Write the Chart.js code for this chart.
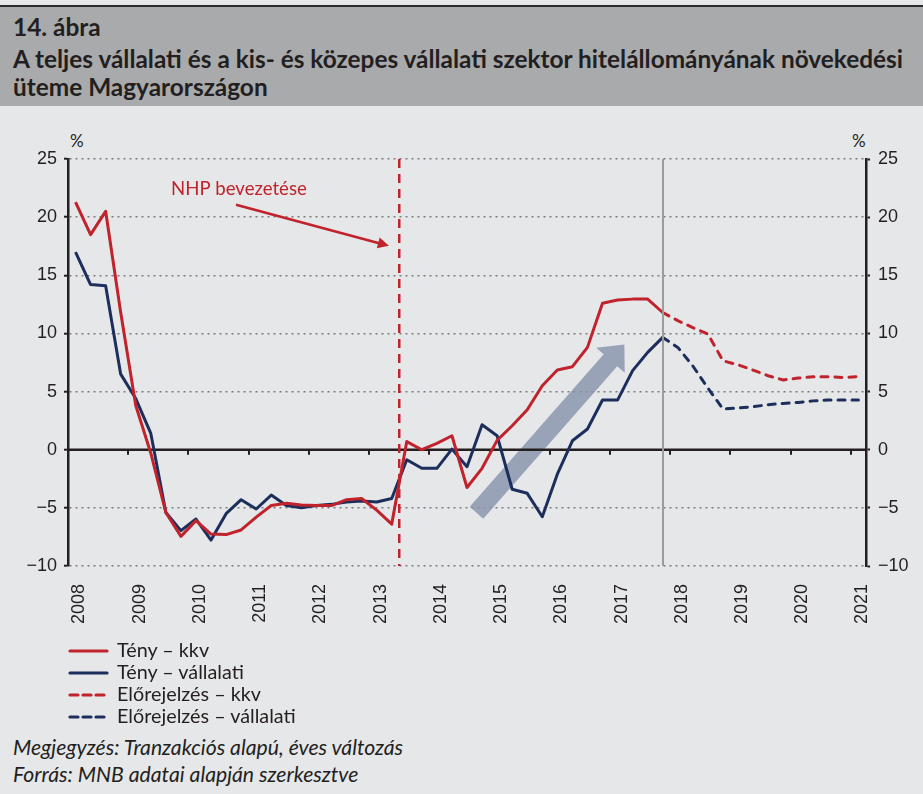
<!DOCTYPE html>
<html lang="hu">
<head>
<meta charset="utf-8">
<title>14. ábra</title>
<script src="https://cdn.jsdelivr.net/npm/chart.js@4.4.1/dist/chart.umd.min.js"></script>
<style>
  html, body { margin: 0; padding: 0; }
  body { width: 923px; height: 794px; background: #e6e7e9; position: relative; overflow: hidden;
         font-family: Lato, "Open Sans", sans-serif; color: #231f20; }
  #topline { position: absolute; left: 0; top: 5px; width: 923px; height: 2px; background: #2b2b2b; }
  #header { position: absolute; left: 0; top: 7px; width: 923px; height: 99px; background: #a9aaac; }
  #header div { position: absolute; left: 13px; font-weight: bold; font-size: 24.4px; white-space: nowrap; line-height: 28px; }
  #wrap { position: absolute; left: 0; top: 110px; width: 923px; height: 530px; }
  .pct { position: absolute; top: 130px; font-size: 17px; }
  .leg { position: absolute; left: 68px; font-size: 19.8px; line-height: 22px; height: 22px; white-space: nowrap; }
  .leg svg { vertical-align: middle; margin-right: 8px; position: relative; top: -1px; }
  .note { position: absolute; left: 13px; font-size: 21.2px; font-style: italic; white-space: nowrap; line-height: 26px; }
</style>
</head>
<body>
<div id="topline"></div>
<div id="header">
  <div style="top:6px">14. ábra</div>
  <div style="top:38px">A teljes vállalati és a kis- és közepes vállalati szektor hitelállományának növekedési</div>
  <div style="top:66px">üteme Magyarországon</div>
</div>
<div class="pct" style="left:70px">%</div>
<div class="pct" style="left:852px">%</div>
<div id="wrap"><canvas id="grafico"></canvas></div>
<div id="legenda"></div>
<div class="note" style="top:734px">Megjegyzés: Tranzakciós alapú, éves változás</div>
<div class="note" style="top:761px">Forrás: MNB adatai alapján szerkesztve</div>
<script>
// negyedéves adatok, 2008 Q1 - 2021 Q1
var evek = [2008, 2009, 2010, 2011, 2012, 2013, 2014, 2015, 2016, 2017, 2018, 2019, 2020, 2021];
var negyedevek = [];
evek.forEach(function (ev) {
    for (var q = 1; q <= 4; q++) {
        if (ev === 2021 && q > 1) break;
        negyedevek.push(ev + ' Q' + q);
    }
});

var tenyKkv = [21.3, 18.5, 20.5, 11.8, 3.8, -0.3, -5.4, -7.45, -6.1, -7.25,
    -7.3, -6.9, -5.8, -4.8, -4.6, -4.75, -4.8, -4.8, -4.3, -4.2,
    -5.2, -6.4, 0.7, 0.0, 0.55, 1.2, -3.25, -1.6, 0.8, 2.06,
    3.44, 5.5, 6.85, 7.14, 8.8, 12.6, 12.87, 12.95, 12.95, 11.8];
var tenyVallalati = [17.0, 14.2, 14.1, 6.5, 4.4, 1.4, -5.4, -6.96, -5.96, -7.77,
    -5.5, -4.3, -5.1, -3.9, -4.8, -5.0, -4.8, -4.7, -4.5, -4.4,
    -4.5, -4.2, -0.86, -1.6, -1.6, 0.05, -1.46, 2.15, 1.2, -3.4,
    -3.75, -5.76, -2.1, 0.77, 1.78, 4.27, 4.27, 6.8, 8.37, 9.66];
// előrejelzés 2017 Q4-től
var elorejelzesKkv = [11.8, 11.1, 10.5, 9.95, 7.65, 7.3, 6.85, 6.36, 6.0, 6.16, 6.28, 6.28, 6.2, 6.3];
var elorejelzesVallalati = [9.66, 8.8, 7.2, 5.3, 3.5, 3.58, 3.7, 3.87, 3.98, 4.07, 4.2, 4.27, 4.27, 4.27];

var elorejelzesKezdet = 39;   // 2017 Q4
var nhpUtan = 21;             // NHP: 2013 Q2 és Q3 között
var yTicks = [25, 20, 15, 10, 5, 0, -5, -10];

var PIROS = '#c0232c';
var KEK = '#1c2f5c';

function teljes(ertekek, kezdet) {
    var sor = [];
    for (var i = 0; i < negyedevek.length; i++) {
        var j = i - kezdet;
        sor.push(j >= 0 && j < ertekek.length ? ertekek[j] : null);
    }
    return sor;
}

// jelmagyarázat
var tetelek = [
    { cimke: 'Tény – kkv', szin: PIROS, dash: '' },
    { cimke: 'Tény – vállalati', szin: KEK, dash: '' },
    { cimke: 'Előrejelzés – kkv', szin: PIROS, dash: '8 5' },
    { cimke: 'Előrejelzés – vállalati', szin: KEK, dash: '8 5' }
];
var legenda = document.getElementById('legenda');
tetelek.forEach(function (t, i) {
    var d = document.createElement('div');
    d.className = 'leg';
    d.style.top = (638 + i * 22) + 'px';
    d.innerHTML = '<svg width="41" height="6"><line x1="2" y1="3" x2="39" y2="3" stroke="' + t.szin +
        '" stroke-width="3.2" stroke-linecap="round"' + (t.dash ? ' stroke-dasharray="' + t.dash + '"' : '') +
        '/></svg>' + t.cimke;
    legenda.appendChild(d);
});

function nyil(ctx, x1, y1, x2, y2, fej, fejSz, test) {
    var dx = x2 - x1, dy = y2 - y1, h = Math.sqrt(dx * dx + dy * dy);
    var ux = dx / h, uy = dy / h, px = -uy, py = ux;
    var bx = x2 - ux * fej, by = y2 - uy * fej;
    ctx.beginPath();
    ctx.moveTo(x1 + px * test, y1 + py * test);
    ctx.lineTo(bx + px * test, by + py * test);
    ctx.lineTo(bx + px * fejSz, by + py * fejSz);
    ctx.lineTo(x2, y2);
    ctx.lineTo(bx - px * fejSz, by - py * fejSz);
    ctx.lineTo(bx - px * test, by - py * test);
    ctx.lineTo(x1 - px * test, y1 - py * test);
    ctx.closePath();
    ctx.fill();
}

var rajzok = {
    id: 'rajzok',
    beforeDatasetsDraw: function (chart) {
        var ctx = chart.ctx, a = chart.chartArea, x = chart.scales.x, y = chart.scales.y;
        ctx.save();
        // nagy szürke nyíl
        ctx.fillStyle = 'rgba(136,148,172,0.82)';
        nyil(ctx, x.getPixelForValue(26.63), y.getPixelForValue(-5.42),
            x.getPixelForValue(36.45), y.getPixelForValue(9.05), 21, 19, 9);
        // nulla vonal
        var y0 = y.getPixelForValue(0);
        ctx.strokeStyle = '#231f20';
        ctx.lineWidth = 2.5;
        ctx.beginPath(); ctx.moveTo(a.left, y0); ctx.lineTo(a.right, y0); ctx.stroke();
        ctx.lineWidth = 2;
        for (var i = 4; i < negyedevek.length; i += 4) {
            var px = Math.round((x.getPixelForValue(i - 1) + x.getPixelForValue(i)) / 2);
            ctx.beginPath(); ctx.moveTo(px, y0); ctx.lineTo(px, y0 + 5); ctx.stroke();
        }
        ctx.restore();
    },
    afterDatasetsDraw: function (chart) {
        var ctx = chart.ctx, a = chart.chartArea, x = chart.scales.x, y = chart.scales.y;
        ctx.save();
        // előrejelzés kezdete
        var fx = Math.round(x.getPixelForValue(elorejelzesKezdet));
        ctx.strokeStyle = '#9c9c9c';
        ctx.lineWidth = 2;
        ctx.beginPath(); ctx.moveTo(fx, a.top); ctx.lineTo(fx, a.bottom); ctx.stroke();
        // NHP
        var nx = (x.getPixelForValue(nhpUtan) + x.getPixelForValue(nhpUtan + 1)) / 2;
        ctx.strokeStyle = PIROS;
        ctx.lineWidth = 2.5;
        ctx.setLineDash([9, 6]);
        ctx.beginPath(); ctx.moveTo(nx, a.top); ctx.lineTo(nx, a.bottom); ctx.stroke();
        ctx.setLineDash([]);
        ctx.fillStyle = PIROS;
        ctx.font = '18.6px Lato, "Open Sans", sans-serif';
        ctx.textBaseline = 'middle';
        ctx.fillText('NHP bevezetése', x.getPixelForValue(6.34), y.getPixelForValue(22.44));
        var ax1 = x.getPixelForValue(10.66), ay1 = y.getPixelForValue(21.07);
        var ax2 = x.getPixelForValue(20.81), ay2 = y.getPixelForValue(17.54);
        nyil(ctx, ax1, ay1, ax2, ay2, 11, 5.5, 1.3);
        ctx.restore();
    }
};

var tickFont = { family: '"Liberation Sans", Arial, sans-serif', size: 18 };
function jel(v) { return v < 0 ? '\u2212' + Math.abs(v) : String(v); }

var grafico = new Chart(document.getElementById('grafico').getContext('2d'), {
    type: 'line',
    data: {
        labels: negyedevek,
        datasets: [{
            label: 'Tény – kkv',
            data: teljes(tenyKkv, 0),
            borderColor: PIROS,
            borderWidth: 3
        }, {
            label: 'Tény – vállalati',
            data: teljes(tenyVallalati, 0),
            borderColor: KEK,
            borderWidth: 3
        }, {
            label: 'Előrejelzés – kkv',
            data: teljes(elorejelzesKkv, elorejelzesKezdet),
            borderColor: PIROS,
            borderWidth: 3,
            borderDash: [7, 7],
            borderCapStyle: 'round'
        }, {
            label: 'Előrejelzés – vállalati',
            data: teljes(elorejelzesVallalati, elorejelzesKezdet),
            borderColor: KEK,
            borderWidth: 3,
            borderDash: [7, 7],
            borderCapStyle: 'round'
        }]
    },
    options: {
        responsive: true,
        maintainAspectRatio: false,
        animation: false,
        layout: { padding: { top: 49, left: 0, right: 0, bottom: 0 } },
        elements: {
            point: { radius: 0, hoverRadius: 0 },
            line: { tension: 0, borderJoinStyle: 'round' }
        },
        plugins: {
            legend: { display: false },
            tooltip: { enabled: false }
        },
        scales: {
            x: {
                type: 'category',
                offset: true,
                grid: { display: false },
                border: { display: false },
                afterFit: function (s) { s.height = 74; },
                ticks: {
                    autoSkip: false,
                    minRotation: 90,
                    maxRotation: 90,
                    padding: 10,
                    labelOffset: 4,
                    color: '#231f20',
                    font: tickFont,
                    callback: function (v, i) { return i % 4 === 0 ? negyedevek[i].slice(0, 4) : ''; }
                }
            },
            y: {
                position: 'left',
                min: -10,
                max: 25,
                afterFit: function (s) { s.width = 68; },
                afterBuildTicks: function (s) { s.ticks = yTicks.map(function (v) { return { value: v }; }); },
                grid: {
                    color: '#7d7d7d',
                    lineWidth: 1.4,
                    tickLength: 4,
                    tickColor: '#231f20',
                    tickWidth: 2
                },
                border: { display: true, color: '#231f20', width: 2.5, dash: [2, 4] },
                ticks: { padding: 7, color: '#231f20', font: tickFont, callback: jel }
            },
            y2: {
                position: 'right',
                min: -10,
                max: 25,
                afterFit: function (s) { s.width = 57; },
                afterBuildTicks: function (s) { s.ticks = yTicks.map(function (v) { return { value: v }; }); },
                grid: {
                    drawOnChartArea: false,
                    tickLength: 4,
                    tickColor: '#231f20',
                    tickWidth: 2
                },
                border: { display: true, color: '#231f20', width: 2.5 },
                ticks: { padding: 8, color: '#231f20', font: tickFont, callback: jel }
            }
        }
    },
    plugins: [rajzok]
});
</script>
</body>
</html>
